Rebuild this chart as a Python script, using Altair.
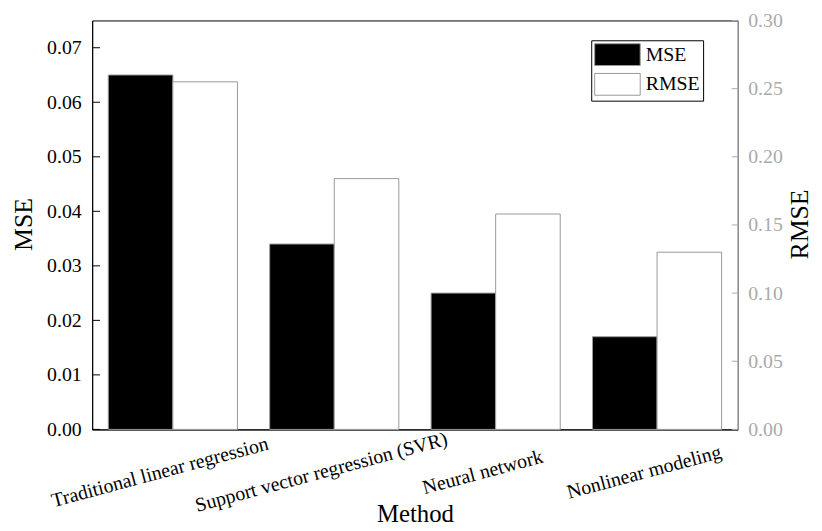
import altair as alt
import pandas as pd

methods = [
    "Traditional linear regression",
    "Support vector regression (SVR)",
    "Neural network",
    "Nonlinear modeling",
]
mse = [0.065, 0.034, 0.025, 0.017]
rmse = [0.255, 0.184, 0.158, 0.130]
series = ["MSE", "RMSE"]
mse_ticks = [0.00, 0.01, 0.02, 0.03, 0.04, 0.05, 0.06, 0.07]
rmse_ticks = [0.00, 0.05, 0.10, 0.15, 0.20, 0.25, 0.30]

FONT = "Liberation Serif"
W, H = 652, 413

df_mse = pd.DataFrame({"Method": methods, "value": mse, "series": "MSE"})
df_rmse = pd.DataFrame({"Method": methods, "value": rmse, "series": "RMSE"})
df_mse_ticks = pd.DataFrame({"value": mse_ticks})
df_rmse_ticks = pd.DataFrame({"value": rmse_ticks})

x_scale = alt.Scale(domain=methods, paddingInner=0.2, paddingOuter=0.1)
xoff = alt.XOffset("series:N", scale=alt.Scale(domain=series, paddingInner=0, paddingOuter=0))
color_scale = alt.Scale(domain=series, range=["#000000", "#ffffff"])

x_axis = alt.Axis(
    title="Method", labelAngle=-15, labelAlign="center", labelBaseline="middle",
    labelPadding=43, labelOffset=-13, ticks=False, tickSize=0, labelOverlap=False,
    labelLimit=400, labelBound=False, labelFlush=False,
    domainColor="black", labelFontSize=20, labelColor="black",
    titleFontSize=25, titleColor="black", titleX=W / 2, titleY=93,
    titleBaseline="alphabetic", titleAlign="center",
)
left_axis = alt.Axis(
    title="MSE", orient="left", values=mse_ticks, format=".2f",
    ticks=False, tickSize=0, labelPadding=11, grid=False,
    domainColor="black", labelColor="black", labelFontSize=20,
    titleFontSize=26, titleColor="black", titleAngle=270,
    titleX=-61, titleY=H / 2 - 1, titleBaseline="alphabetic", titleAlign="center",
)
right_axis = alt.Axis(
    title="RMSE", orient="right", values=rmse_ticks, format=".2f",
    ticks=False, tickSize=0, labelPadding=10, grid=False,
    domainColor="#aaaaaa", labelColor="#aaaaaa", labelFontSize=20,
    titleFontSize=26, titleColor="black", titleAngle=270,
    titleX=70, titleY=H / 2 - 1, titleBaseline="alphabetic", titleAlign="center",
)

legend = alt.Legend(
    title=None, orient="none", legendX=504, legendY=20,
    symbolType="M-1,-1L3.18,-1L3.18,1L-1,1Z", symbolSize=484,
    symbolStrokeColor="#999999", symbolStrokeWidth=1,
    labelFontSize=20, labelFont=FONT, labelColor="black", labelOffset=29,
    rowPadding=3, padding=3, strokeColor="black", fillColor="white",
    labelBaseline="middle",
)

mse_scale = alt.Scale(domain=[0, 0.075], nice=False, zero=True)
rmse_scale = alt.Scale(domain=[0, 0.30], nice=False, zero=True)

mse_bars = alt.Chart(df_mse).mark_bar(stroke="#999999", strokeWidth=1).encode(
    x=alt.X("Method:N", sort=methods, scale=x_scale, axis=x_axis),
    xOffset=xoff,
    y=alt.Y("value:Q", scale=mse_scale, axis=left_axis),
    color=alt.Color("series:N", scale=color_scale, legend=legend),
)
mse_tick_marks = alt.Chart(df_mse_ticks).mark_rule(color="black", strokeWidth=1).encode(
    y=alt.Y("value:Q", scale=mse_scale, axis=left_axis), x=alt.value(0), x2=alt.value(8)
)

rmse_bars = alt.Chart(df_rmse).mark_bar(stroke="#999999", strokeWidth=1).encode(
    x=alt.X("Method:N", sort=methods, scale=x_scale, axis=x_axis),
    xOffset=xoff,
    y=alt.Y("value:Q", scale=rmse_scale, axis=right_axis),
    color=alt.Color("series:N", scale=color_scale, legend=legend),
)
rmse_tick_marks = alt.Chart(df_rmse_ticks).mark_rule(color="#aaaaaa", strokeWidth=1).encode(
    y=alt.Y("value:Q", scale=rmse_scale, axis=right_axis), x=alt.value(W - 6), x2=alt.value(W)
)

left = alt.layer(mse_bars, mse_tick_marks)
right = alt.layer(rmse_bars, rmse_tick_marks)

chart = (
    alt.layer(left, right)
    .resolve_scale(y="independent")
    .properties(
        width=W, height=H,
        autosize=alt.AutoSizeParams(type="none"),
        padding={"left": 85, "top": 10, "right": 77, "bottom": 100},
        background="white",
    )
    .configure_view(stroke="black", strokeWidth=1)
    .configure_axis(labelFont=FONT, titleFont=FONT, titleFontWeight="normal", grid=False)
    .configure_legend(labelFont=FONT)
)

chart.save("out.html", embed_options={"renderer": "svg", "actions": False})
